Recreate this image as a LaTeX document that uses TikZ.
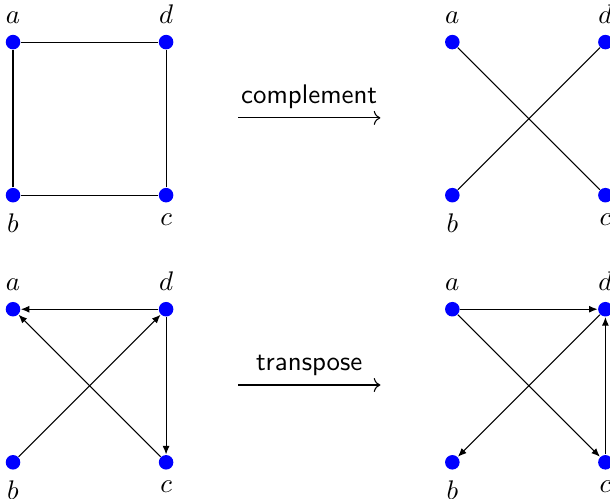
\documentclass[tikz,border=0pt]{standalone}
\usepackage{tikz}
\usetikzlibrary{arrows.meta,positioning}

\begin{document}
\begin{tikzpicture}[
  node distance=2cm, on grid,
  vertex/.style={circle, fill=blue, inner sep=0pt, minimum size=0.19cm},
  vlabel/.style={label distance=0.5pt},
  edge/.style={-{Latex[length=3.2pt, width=2.6pt]}},
  op/.style={->}
]
  \useasboundingbox (-0.17,0.55) rectangle (7.80,-5.96);

  % graph and its complement
  \node[vertex, label={[vlabel]above:$a$}] (a1) at (0,0) {};
  \node[vertex, right=of a1, label={[vlabel]above:$d$}] (d1) {};
  \node[vertex, below=of a1, label={[vlabel]below:$b$}] (b1) {};
  \node[vertex, below=of d1, label={[vlabel]below:$c$}] (c1) {};

  \node[vertex, label={[vlabel]above:$a$}] (a2) at (5.74,0) {};
  \node[vertex, right=of a2, label={[vlabel]above:$d$}] (d2) {};
  \node[vertex, below=of a2, label={[vlabel]below:$b$}] (b2) {};
  \node[vertex, below=of d2, label={[vlabel]below:$c$}] (c2) {};

  \coordinate (s1) at (2.94,-0.99);
  \coordinate (e1) at (4.80,-0.99);

  \draw (a1) -- (d1);
  \draw (d1) -- (c1);
  \draw (c1) -- (b1);
  \draw (b1) -- (a1);
  \draw (a2) -- (c2);
  \draw (d2) -- (b2);
  \draw[op] (s1) -- node[above] {\sffamily complement} (e1);

  % digraph and its transpose
  \node[vertex, label={[vlabel]above:$a$}] (a3) at (0,-3.49) {};
  \node[vertex, right=of a3, label={[vlabel]above:$d$}] (d3) {};
  \node[vertex, below=of a3, label={[vlabel]below:$b$}] (b3) {};
  \node[vertex, below=of d3, label={[vlabel]below:$c$}] (c3) {};

  \node[vertex, label={[vlabel]above:$a$}] (a4) at (5.74,-3.49) {};
  \node[vertex, right=of a4, label={[vlabel]above:$d$}] (d4) {};
  \node[vertex, below=of a4, label={[vlabel]below:$b$}] (b4) {};
  \node[vertex, below=of d4, label={[vlabel]below:$c$}] (c4) {};

  \coordinate (s2) at (2.94,-4.48);
  \coordinate (e2) at (4.80,-4.48);

  \draw[edge] (d3) -- (a3);
  \draw[edge] (d3) -- (c3);
  \draw[edge] (b3) -- (d3);
  \draw[edge] (c3) -- (a3);
  \draw[edge] (a4) -- (d4);
  \draw[edge] (c4) -- (d4);
  \draw[edge] (d4) -- (b4);
  \draw[edge] (a4) -- (c4);
  \draw[op] (s2) -- node[above] {\sffamily transpose} (e2);
\end{tikzpicture}
\end{document}
